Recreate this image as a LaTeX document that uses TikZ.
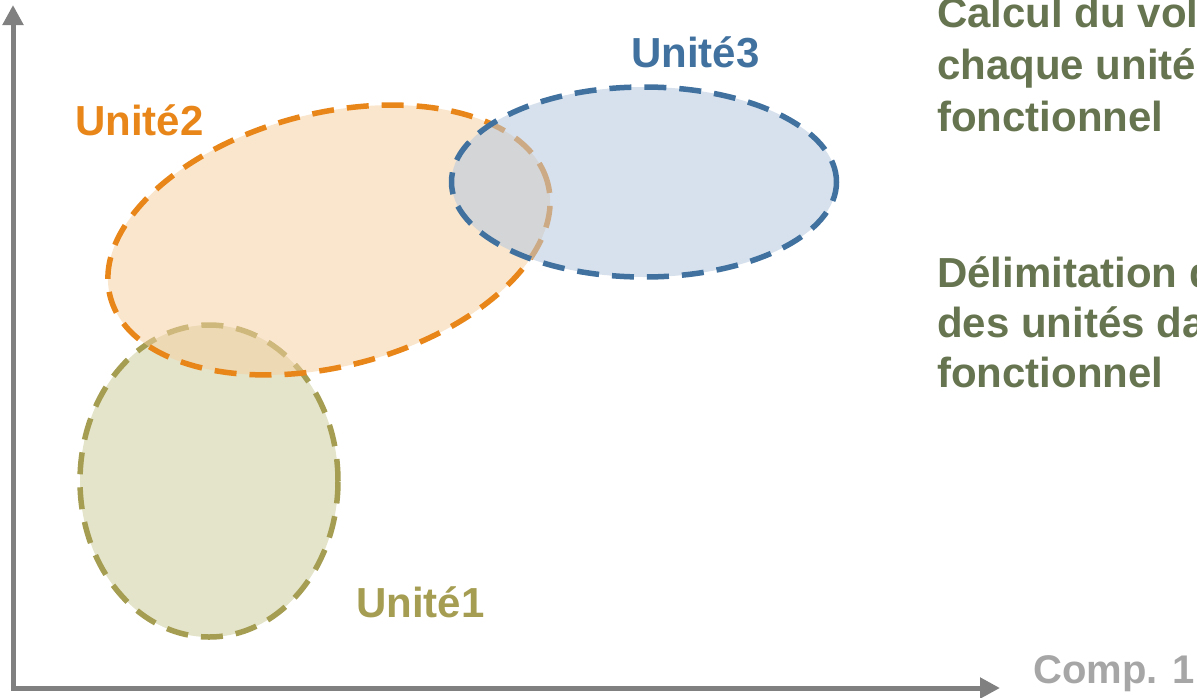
\documentclass[tikz,border=0pt]{standalone}
\usepackage{fontspec}
\setmainfont{Liberation Sans}
\usetikzlibrary{shapes.geometric,arrows.meta}
\definecolor{uorange}{RGB}{232,134,26}
\definecolor{ublue}{RGB}{65,114,159}
\definecolor{uolive}{RGB}{165,157,82}
\definecolor{forange}{RGB}{246,208,161}
\definecolor{fblue}{RGB}{182,200,222}
\definecolor{folive}{RGB}{228,228,202}
\definecolor{txtgreen}{RGB}{102,116,79}
\definecolor{axisgray}{RGB}{128,128,128}
\definecolor{labgray}{RGB}{166,166,166}
\begin{document}
\begin{tikzpicture}[x=1pt,y=-1pt,
  unit/.style={ellipse, draw, line width=5.5pt, dash pattern=on 22pt off 13pt, inner sep=0pt},
  lab/.style={font=\fontsize{42}{50}\selectfont\bfseries, inner sep=0pt, anchor=base west},
  axisline/.style={draw=axisgray, line width=5pt, line join=miter,
    {Triangle[length=20pt,width=20pt]}-{Triangle[length=20pt,width=20pt]}}]
\clip (0,0) rectangle (1197,697);
\useasboundingbox (0,0) rectangle (1197,697);
% axes
\coordinate (o) at (13,688);
\coordinate (ytip) at (13,5);
\coordinate (xtip) at (1000,688);
\draw[axisline] (ytip) -- (o) -- (xtip);
% units
\node[unit, draw=uolive, fill=folive,
  minimum width=258pt, minimum height=312pt] (u1) at (209,481) {};
\node[unit, draw=uorange, fill=forange, fill opacity=0.53, draw opacity=1,
  rotate=14.5, minimum width=452pt, minimum height=253pt] (u2) at (329,240) {};
\node[unit, draw=ublue, fill=fblue, fill opacity=0.55, draw opacity=1,
  minimum width=385pt, minimum height=190pt] (u3) at (644,182) {};
% labels
\node[lab, text=uorange] (l2) at (75,135) {Unité2};
\node[lab, text=ublue] (l3) at (631,67) {Unité3};
\node[lab, text=uolive] (l1) at (356,617) {Unité1};
\node[lab, text=labgray, font=\fontsize{40}{48}\selectfont\bfseries] (lx) at (1033,683) {Comp. 1};
% right text
\node[lab, text=txtgreen] (c1) at (937,27) {Calcul du volume de};
\node[lab, text=txtgreen] (c2) at (937,79) {chaque unité dans};
\node[lab, text=txtgreen] (c3) at (937,131) {fonctionnel};
\node[lab, text=txtgreen] (d1) at (937,287) {Délimitation des};
\node[lab, text=txtgreen] (d2) at (937,337) {des unités dans};
\node[lab, text=txtgreen] (d3) at (937,387) {fonctionnel};
\end{tikzpicture}
\end{document}
